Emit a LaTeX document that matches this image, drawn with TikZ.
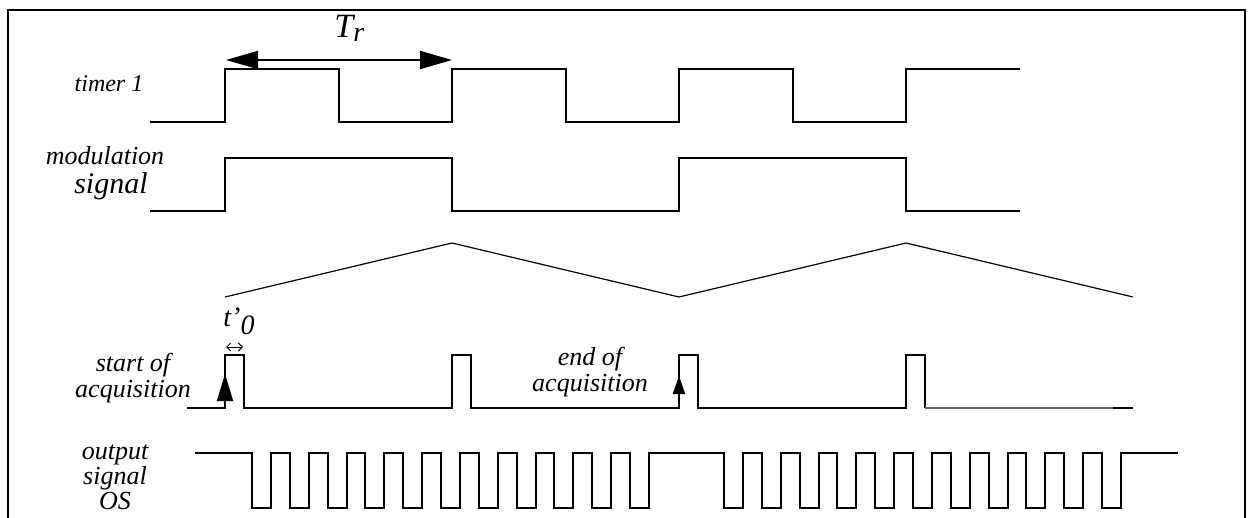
\documentclass[tikz,border=0pt]{standalone}
\usepackage{fontspec}
\setmainfont{Liberation Serif}
\usetikzlibrary{arrows.meta}

\begin{document}
\begin{tikzpicture}[
    x=0.5pt, y=-0.5pt,
    sig/.style={line width=1pt, line join=miter},
    lbl/.style={
        font=\fontsize{13}{13}\selectfont\itshape,
        inner sep=0pt,
        align=center
    },
    bigarrow/.style={line width=1pt, {Triangle[length=16pt,width=9pt]}-{Triangle[length=16pt,width=9pt]}}
]
\useasboundingbox (0,0) rectangle (1253,518);

% Frame
\draw[line width=1pt] (8,518) -- (8,10) -- (1245,10) -- (1245,518);

% Signals
\draw[sig] (150,122) foreach \t in {225,452,679} { -- (\t,122) -- (\t,69) -- ({\t+113.5},69) -- ({\t+113.5},122) }
    -- (906,122) -- (906,69) -- (1020,69);
\draw[sig] (150,211) -- (225,211) -- (225,158) -- (452,158) -- (452,211)
    -- (679,211) -- (679,158) -- (906,158) -- (906,211) -- (1020,211);
\draw[line width=0.6pt] (225,297) -- (452,243) -- (679,297) -- (906,243) -- (1133,297);
\draw[sig] (187,408) foreach \t in {225,452,679,906} { -- (\t,408) -- (\t,355) -- ({\t+19},355) -- ({\t+19},408) };
\draw[sig, black!60] (925,408) -- (1113,408);
\draw[sig] (1113,408) -- (1133,408);
\draw[sig] (195,453)
    foreach \k in {0,...,10} { -- ({252+37.8*\k},453) -- ++(0,55) -- ++(19,0) -- ++(0,-55) } -- (724,453)
    foreach \k in {0,...,10} { -- ({724+37.8*\k},453) -- ++(0,55) -- ++(19,0) -- ++(0,-55) } -- (1178,453);

% Arrows
\draw[bigarrow] (226,60) -- (452,60);
\draw[line width=0.5pt, {Straight Barb[length=2pt]}-{Straight Barb[length=2pt]}] (226,347) -- (243,347);
\draw[sig, -{Triangle[length=13.5pt,width=8pt]}] (225,408) -- (225,374);
\draw[sig, -{Triangle[length=9pt,width=6pt]}] (679,408) -- (679,376);

% Labels
\node[lbl, font=\fontsize{12}{12}\selectfont\itshape, anchor=base] (timer) at (109,92) {timer 1};
\node[lbl, anchor=base] (modul) at (105,165) {modulation};
\node[lbl, font=\fontsize{15}{15}\selectfont\itshape, anchor=base] (modsig) at (111,194) {signal};
\node[lbl] (start) at (133,378) {start of\\acquisition};
\node[lbl] (endacq) at (590,372) {end of\\acquisition};
\node[lbl, font=\fontsize{13}{10.5}\selectfont\itshape] (out) at (115,477) {output\\signal\\OS};
\node[anchor=base west, inner sep=0pt, font=\fontsize{17}{17}\selectfont\itshape] (Tr) at (334,38)
    {T\raisebox{-2pt}{\fontsize{14}{14}\selectfont r}};
\node[anchor=base west, inner sep=0pt, font=\fontsize{14}{14}\selectfont\itshape] (tzero) at (223,327)
    {t’\raisebox{-4pt}{0}};

\end{tikzpicture}
\end{document}
